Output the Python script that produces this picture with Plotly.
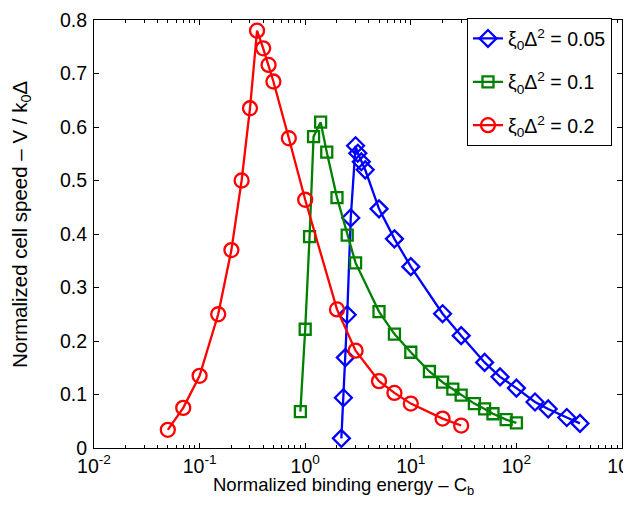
import plotly.graph_objects as go

# Data
red_x = [0.05, 0.07, 0.1, 0.15, 0.2, 0.25, 0.3, 0.35, 0.4, 0.45, 0.5, 0.7, 1, 2, 3, 5, 7, 10, 20, 30]
red_y = [0.034, 0.075, 0.135, 0.25, 0.37, 0.50, 0.635, 0.78, 0.747, 0.716, 0.685, 0.579, 0.464, 0.259, 0.182, 0.125, 0.103, 0.083, 0.055, 0.042]

green_x = [0.9, 1, 1.1, 1.2, 1.4, 1.6, 2, 2.5, 3, 5, 7, 10, 15, 20, 25, 30, 40, 50, 60, 80, 100]
green_y = [0.068, 0.222, 0.395, 0.582, 0.609, 0.553, 0.468, 0.398, 0.346, 0.255, 0.213, 0.179, 0.143, 0.123, 0.110, 0.099, 0.083, 0.073, 0.064, 0.053, 0.047]

blue_x = [2.2, 2.3, 2.4, 2.5, 2.7, 3.0, 3.15, 3.4, 3.7, 5, 7, 10, 20, 30, 50, 70, 100, 150, 200, 300, 400]
blue_y = [0.018, 0.094, 0.169, 0.249, 0.430, 0.565, 0.551, 0.535, 0.520, 0.447, 0.391, 0.339, 0.251, 0.210, 0.160, 0.133, 0.112, 0.086, 0.073, 0.057, 0.046]

series_names = ["ξ<sub>0</sub>Δ<sup>2</sup> = 0.05", "ξ<sub>0</sub>Δ<sup>2</sup> = 0.1", "ξ<sub>0</sub>Δ<sup>2</sup> = 0.2"]

x_tickvals = [0.01, 0.1, 1, 10, 100, 1000]
x_ticktext = ["10<sup>-2</sup>", "10<sup>-1</sup>", "10<sup>0</sup>", "10<sup>1</sup>", "10<sup>2</sup>", "10<sup>3</sup>"]
y_tickvals = [0, 0.1, 0.2, 0.3, 0.4, 0.5, 0.6, 0.7, 0.8]
y_ticktext = ["0", "0.1", "0.2", "0.3", "0.4", "0.5", "0.6", "0.7", "0.8"]

x_title = "Normalized binding energy – C<sub>b</sub>"
y_title = "Normalized cell speed – V / k<sub>0</sub>Δ"

fig = go.Figure()
specs = [
    (blue_x, blue_y, "rgb(0,0,255)", "diamond-open", 13, series_names[0]),
    (green_x, green_y, "rgb(0,128,0)", "square-open", 11, series_names[1]),
    (red_x, red_y, "rgb(255,0,0)", "circle-open", 14, series_names[2]),
]
for i, (xs, ys, col, sym, sz, nm) in enumerate(specs):
    fig.add_trace(go.Scatter(
        x=xs, y=ys, mode="lines+markers", name=nm, legendgroup=f"g{i}",
        line=dict(color=col, width=2.3),
        marker=dict(symbol=sym, size=sz, color=col, line=dict(width=2.3, color=col)),
    ))

font_family = "Liberation Sans, Arial, Helvetica, sans-serif"

fig.update_layout(
    width=631, height=505,
    margin=dict(l=86, r=17, t=10, b=65),
    paper_bgcolor="white", plot_bgcolor="white",
    font=dict(family=font_family, size=19, color="black"),
    showlegend=True,
    legend=dict(
        x=0.7064, y=1.004, xanchor="left", yanchor="top",
        bgcolor="white", bordercolor="black", borderwidth=1,
        font=dict(size=19.5), tracegroupgap=15, itemwidth=30,
    ),
    annotations=[
        dict(text=x_title, xref="paper", yref="paper", x=0.5, y=0, xanchor="center",
             yanchor="top", yshift=-24, xshift=-15, showarrow=False, font=dict(size=18.5)),
        dict(text=y_title, xref="paper", yref="paper", x=0, y=0.521, xanchor="center",
             yanchor="middle", xshift=-73, textangle=-90, showarrow=False, font=dict(size=20.5)),
    ],
)
fig.update_xaxes(
    type="log", range=[-2, 3], automargin=False,
    tickvals=x_tickvals, ticktext=x_ticktext,
    ticks="inside", ticklen=5, tickcolor="black", tickwidth=1,
    minor=dict(ticks="inside", ticklen=3, tickcolor="black", dtick="D1", showgrid=False),
    showline=True, linecolor="black", linewidth=1.2, mirror="allticks",
    showgrid=False, zeroline=False, ticklabeloverflow="allow",
    tickfont=dict(size=19.5),
)
fig.update_yaxes(
    range=[0, 0.8], automargin=False,
    tickvals=y_tickvals, ticktext=y_ticktext,
    ticks="inside", ticklen=5, tickcolor="black", tickwidth=1,
    showline=True, linecolor="black", linewidth=1.2, mirror="allticks",
    showgrid=False, zeroline=False, ticklabeloverflow="allow",
    tickfont=dict(size=19.5), ticklabelstandoff=2,
)

fig.write_html("out.html")
